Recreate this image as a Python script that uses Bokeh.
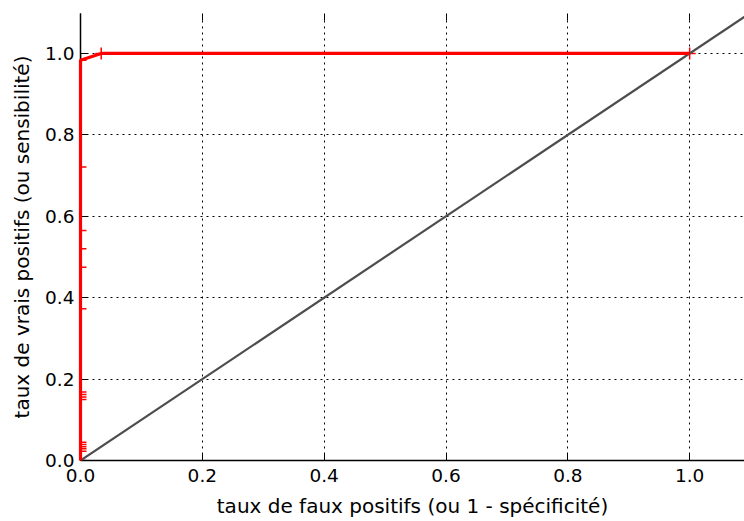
from bokeh.plotting import figure
from bokeh.models import (Range1d, LinearAxis, FixedTicker, NumeralTickFormatter,
                          Slope, CustomJSTickFormatter)
from bokeh.embed import file_html
from bokeh.resources import INLINE

# ROC curve (false positive rate, true positive rate)
fpr = [0.0, 0.0, 0.0, 0.0, 0.0, 0.0, 0.0, 0.0, 0.0, 0.0,
       0.0, 0.0, 0.0, 0.0, 0.0, 0.0, 0.034, 1.0]
tpr = [0.0, 0.023, 0.029, 0.034, 0.039, 0.045, 0.150, 0.156, 0.162, 0.168,
       0.373, 0.475, 0.520, 0.565, 0.721, 0.983, 1.0, 1.0]

# chance diagonal y = x
diag_slope = 1.0
diag_intercept = 0.0

ticks = [0.0, 0.2, 0.4, 0.6, 0.8, 1.0]
x_label = "taux de faux positifs (ou 1 - spécificité)"
y_label = "taux de vrais positifs (ou sensibilité)"

FONT = "DejaVu Sans"

p = figure(width=744, height=521, output_backend="svg", toolbar_location=None,
           x_range=Range1d(0, 1.090), y_range=Range1d(0, 1.098),
           min_border_left=80, min_border_right=0, min_border_top=13,
           min_border_bottom=61, x_axis_label=x_label, y_axis_label=y_label)
p.outline_line_color = None
p.background_fill_color = "white"
p.border_fill_color = "white"

for ax in (p.xaxis[0], p.yaxis[0]):
    ax.ticker = FixedTicker(ticks=ticks)
    ax.formatter = NumeralTickFormatter(format="0.0")
    ax.major_tick_in = 7
    ax.major_tick_out = 0
    ax.minor_tick_in = 0
    ax.minor_tick_out = 0
    ax.axis_line_width = 1.5
    ax.axis_line_color = "black"
    ax.major_tick_line_color = "black"
    ax.major_tick_line_width = 1
    ax.major_label_text_font = FONT
    ax.major_label_text_font_size = "18.5px"
    ax.major_label_text_color = "black"
    ax.axis_label_text_font = FONT
    ax.axis_label_text_font_size = "20px"
    ax.axis_label_text_font_style = "normal"
    ax.axis_label_text_color = "black"

p.xaxis.major_label_standoff = 8
p.xaxis.axis_label_standoff = 9
p.yaxis.major_label_standoff = 6
p.yaxis.axis_label_standoff = 8

top = LinearAxis(ticker=FixedTicker(ticks=ticks),
                 formatter=CustomJSTickFormatter(code="return ''"),
                 axis_line_color=None, major_tick_in=7, major_tick_out=0,
                 minor_tick_in=0, minor_tick_out=0, major_label_standoff=0,
                 major_label_text_font_size="1px",
                 major_tick_line_color="black")
p.add_layout(top, "above")

for g in (p.xgrid[0], p.ygrid[0]):
    g.ticker = FixedTicker(ticks=ticks)
    g.grid_line_color = "black"
    g.grid_line_dash = "2 4"
    g.grid_line_width = 1

p.scatter(fpr, tpr, marker="cross", size=12, line_color="red", line_width=1.5)
p.line(fpr, tpr, line_color="red", line_width=3.2, level="overlay")

p.add_layout(Slope(gradient=diag_slope, y_intercept=diag_intercept,
                   line_color="#4d4d4d", line_width=2.2))

open("out.html", "w").write(file_html(p, INLINE))
